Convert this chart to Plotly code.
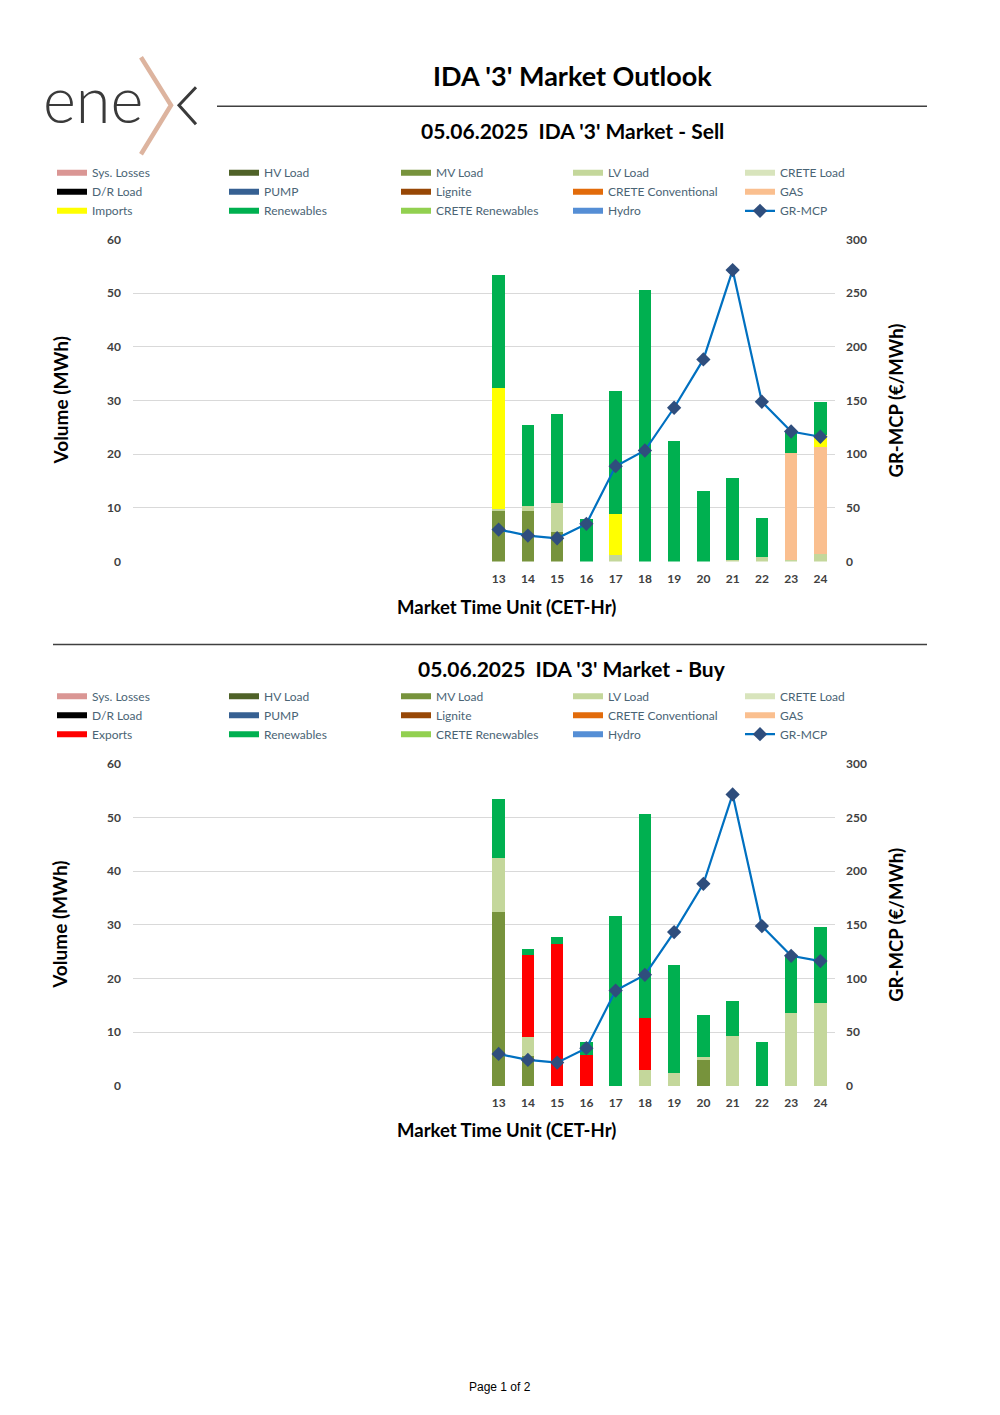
import plotly.graph_objects as go

# ---------------- data ----------------
hours = list(range(13, 25))
mcp = [29.8, 24.2, 21.7, 35.1, 88.8, 103.4, 143.2, 188.2, 271.4, 148.8, 121.1, 116.2]

zeros = [0] * 12
# Sell side (MWh)
sell_mv = [9.4, 9.4, 5.5, 0, 0, 0, 0, 0, 0, 0, 0, 0]
sell_lv = [0.3, 0.9, 5.4, 0, 1.3, 0, 0, 0, 0.3, 0.8, 0.3, 1.5]
sell_gas = [0, 0, 0, 0, 0, 0, 0, 0, 0, 0, 19.9, 19.9]
sell_imports = [22.7, 0, 0, 0, 7.6, 0, 0, 0, 0, 0, 0, 2.1]
sell_ren = [20.9, 15.2, 16.6, 8.0, 22.8, 50.6, 22.4, 13.1, 15.3, 7.3, 4.1, 6.2]

# Buy side (MWh)
buy_mv = [32.4, 5.5, 0, 0, 0, 0, 0, 4.8, 0, 0, 0, 0]
buy_lv = [10.1, 3.7, 0, 0, 0, 2.9, 2.4, 0.6, 9.3, 0, 13.5, 15.5]
buy_exports = [0, 15.2, 26.5, 5.8, 0, 9.8, 0, 0, 0, 0, 0, 0]
buy_ren = [10.9, 1.1, 1.2, 2.3, 31.7, 38.0, 20.1, 7.8, 6.5, 8.1, 10.7, 14.1]

series_names = ["Sys. Losses", "HV Load", "MV Load", "LV Load", "CRETE Load",
                "D/R Load", "PUMP", "Lignite", "CRETE Conventional", "GAS",
                "Imports", "Renewables", "CRETE Renewables", "Hydro"]
colors = {
    "Sys. Losses": "#DA9694", "HV Load": "#4F6228", "MV Load": "#77933C",
    "LV Load": "#C4D79B", "CRETE Load": "#D8E4BC", "D/R Load": "#000000",
    "PUMP": "#366092", "Lignite": "#974706", "CRETE Conventional": "#E26B0A",
    "GAS": "#FABF8F", "Imports": "#FFFF00", "Exports": "#FF0000",
    "Renewables": "#00B050", "CRETE Renewables": "#92D050", "Hydro": "#558ED5",
}

sell_data = {"MV Load": sell_mv, "LV Load": sell_lv, "GAS": sell_gas,
             "Imports": sell_imports, "Renewables": sell_ren}
buy_data = {"MV Load": buy_mv, "LV Load": buy_lv, "Exports": buy_exports,
            "Renewables": buy_ren}

FW, FH = 984, 1399
OFFX, OFFY = 8, 8
def px(x):
    return (x - OFFX) / FW
def py(y):
    yy = (y - 8.9) / 0.9886
    return 1 - (yy - OFFY) / FH

FONT = "Lato"
fig = go.Figure()

def add_chart(data, names, xa, ya, ya2, legend):
    for n in names:
        fig.add_trace(go.Bar(
            x=hours, y=data.get(n, zeros), name=n, marker_color=colors[n],
            marker_line_width=0, xaxis=xa, yaxis=ya, legend=legend, width=0.43,
            legendgroup=legend + n, showlegend=False,
            hovertemplate=n + ": %{y}<extra></extra>"))
        # legend-only entry drawn as a wide bar-like swatch
        fig.add_trace(go.Scatter(
            x=[None], y=[None], name=n, mode="lines",
            line=dict(color=colors[n], width=6), xaxis=xa, yaxis=ya,
            legend=legend, legendgroup=legend + n, hoverinfo="skip"))
    fig.add_trace(go.Scatter(
        x=hours, y=mcp, name="GR-MCP", mode="lines+markers",
        line=dict(color="#0070C0", width=2.2),
        marker=dict(symbol="diamond", size=11, color="#2F4E7D"),
        xaxis=xa, yaxis=ya2, legend=legend))

sell_names = series_names
buy_names = [("Exports" if n == "Imports" else n) for n in series_names]
add_chart(sell_data, sell_names, "x", "y", "y2", "legend")
add_chart(buy_data, buy_names, "x2", "y3", "y4", "legend2")

tickfont = dict(family=FONT, size=12, color="#404040", weight="bold")
xcommon = dict(range=[0.5, 24.5], tickvals=hours, ticktext=[str(h) for h in hours],
               showgrid=False, zeroline=False, showline=False, ticks="",
               tickfont=tickfont, ticklabelstandoff=8, fixedrange=True)
ycommon = dict(range=[0, 60], dtick=10, showgrid=True, gridcolor="#D9D9D9",
               gridwidth=1, zeroline=False, showline=False, ticks="",
               tickfont=tickfont, ticklabelstandoff=11)
y2common = dict(range=[0, 300], dtick=50, showgrid=False, zeroline=False,
                showline=False, ticks="", side="right", tickfont=tickfont,
                ticklabelstandoff=10)

d1 = [py(562), py(240)]
d2 = [py(1086), py(764)]
fig.update_layout(
    xaxis=dict(domain=[px(133), px(835)], anchor="y", **xcommon),
    yaxis=dict(domain=d1, anchor="x", **ycommon),
    yaxis2=dict(overlaying="y", anchor="x", **y2common),
    xaxis2=dict(domain=[px(133), px(835)], anchor="y3", **xcommon),
    yaxis3=dict(domain=d2, anchor="x2", **ycommon),
    yaxis4=dict(overlaying="y3", anchor="x2", **y2common),
)

legend_common = dict(orientation="h", xanchor="left", yanchor="top",
                     entrywidth=127, entrywidthmode="pixels", traceorder="normal",
                     font=dict(family=FONT, size=12, color="#4A6475"),
                     bgcolor="rgba(0,0,0,0)", itemclick=False, itemdoubleclick=False,
                     tracegroupgap=0)
fig.update_layout(
    legend=dict(x=px(52), y=py(159), **legend_common),
    legend2=dict(x=px(52), y=py(682), **legend_common),
    barmode="stack",
    width=FW, height=FH,
    margin=dict(l=0, r=0, t=0, b=0),
    paper_bgcolor="white", plot_bgcolor="white",
    showlegend=True,
    font=dict(family=FONT),
)

ann = []
def text(x, y, s, size, color="#000000", bold=True, angle=0, family=FONT):
    ann.append(dict(x=px(x), y=py(y), xref="paper", yref="paper", text=s,
                    showarrow=False, xanchor="center", yanchor="middle",
                    textangle=angle,
                    font=dict(family=family, size=size, color=color,
                              weight="bold" if bold else "normal")))

text(572, 76, "IDA '3' Market Outlook", 27)
text(572, 131, "05.06.2025\u00a0\u00a0IDA '3' Market - Sell", 21)
text(572, 669, "05.06.2025\u00a0\u00a0IDA '3' Market - Buy", 21)
for yy in (607, 1130):
    text(506, yy, "Market Time Unit (CET-Hr)", 18.5)
for yy in (401, 925):
    text(60, yy, "Volume (MWh)", 19, angle=-90)
    text(896, yy, "GR-MCP (€/MWh)", 18.5, angle=-90)
text(500, 1387, "Page 1 of 2", 12, bold=False, family="Liberation Sans")

# logo text
ann.append(dict(x=px(41), y=py(99), xref="paper", yref="paper", text="ene",
                showarrow=False, xanchor="left", yanchor="middle",
                font=dict(family=FONT, size=63, color="#3A3A3A", weight=300)))
fig.update_layout(annotations=ann)

shapes = [
    dict(type="line", xref="paper", yref="paper", x0=px(217), x1=px(927),
         y0=py(107), y1=py(107), line=dict(color="#404040", width=1.5)),
    dict(type="line", xref="paper", yref="paper", x0=px(53), x1=px(927),
         y0=py(645), y1=py(645), line=dict(color="#404040", width=1.5)),
    # logo X
    dict(type="path", xref="paper", yref="paper",
         path=f"M {px(141)},{py(58)} L {px(171)},{py(106)} L {px(141)},{py(155)}",
         line=dict(color="#DDB49F", width=4.5)),
    dict(type="path", xref="paper", yref="paper",
         path=f"M {px(196)},{py(88)} L {px(179)},{py(106)} L {px(196)},{py(125)}",
         line=dict(color="#3A3A3A", width=3)),
]
fig.update_layout(shapes=shapes)

fig.write_html("out.html")
